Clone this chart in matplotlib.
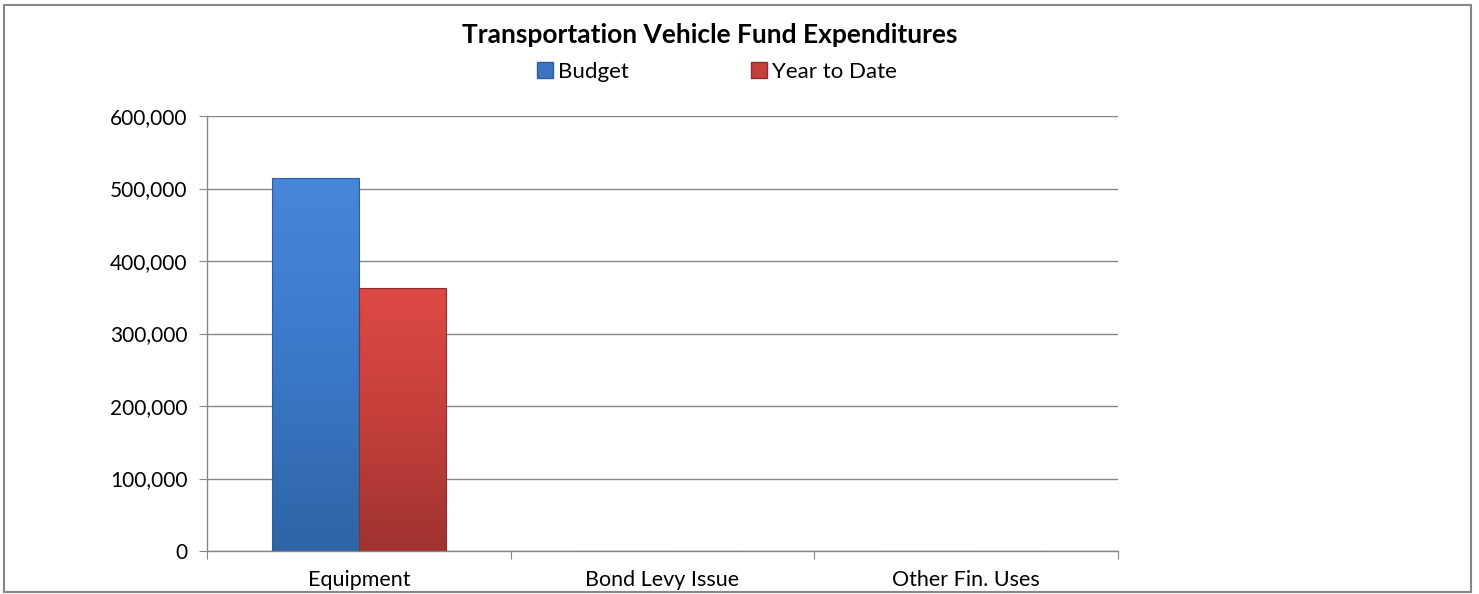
import numpy as np
import matplotlib.pyplot as plt
from matplotlib.lines import Line2D
from matplotlib.patches import Rectangle
from matplotlib.colors import LinearSegmentedColormap

plt.rcParams['font.family'] = ['Lato', 'DejaVu Sans']

categories = ["Equipment", "Bond Levy Issue", "Other Fin. Uses"]
budget = [514000, 0, 0]
year_to_date = [363000, 0, 0]
series = ["Budget", "Year to Date"]

W, H = 1479, 594
fig = plt.figure(figsize=(W / 100, H / 100), dpi=100)
ax = fig.add_axes([207 / W, 1 - 551 / H, (1118 - 207) / W, (551 - 116) / H])

grad = {
    "Budget": LinearSegmentedColormap.from_list("b", ["#2f64a5", "#3b78c8", "#4886da"]),
    "Year to Date": LinearSegmentedColormap.from_list("r", ["#9f3330", "#c43f3b", "#de4a45"]),
}
edge = {"Budget": "#2d5e9c", "Year to Date": "#8e2d2a"}

x = np.arange(len(categories))
w = 0.286
for off, name, vals in [(-w / 2, "Budget", budget), (w / 2, "Year to Date", year_to_date)]:
    bars = ax.bar(x + off, vals, w, color="none", edgecolor=edge[name], linewidth=0.8, zorder=3)
    for b in bars:
        h = b.get_height()
        if h <= 0:
            continue
        x0 = b.get_x()
        g = np.linspace(0, 1, 256).reshape(-1, 1)
        im = ax.imshow(g, cmap=grad[name], origin="lower", aspect="auto",
                       extent=(x0, x0 + b.get_width(), 0, h), zorder=2)
        im.set_clip_path(b)

ax.set_xlim(-0.5, 2.5)
ax.set_ylim(0, 600000)
ax.set_yticks(np.arange(0, 600001, 100000))
ax.yaxis.set_major_formatter(plt.FuncFormatter(lambda v, p: f"{int(v):,}"))
ax.set_xticks([-0.5, 0.5, 1.5, 2.5])
ax.set_xticklabels([])
ax.set_xticks(x, minor=True)
ax.set_xticklabels(categories, minor=True)
ax.tick_params(axis="x", which="minor", length=0, pad=14, labelsize=15.5)
ax.tick_params(axis="x", which="major", length=6, color="#868686", direction="out")
ax.tick_params(axis="y", length=6, color="#868686", labelsize=15, pad=8)
ax.grid(axis="y", color="#868686", linewidth=1.0, zorder=0)
ax.set_axisbelow(True)
for s in ["top", "right"]:
    ax.spines[s].set_visible(False)
for s in ["left", "bottom"]:
    ax.spines[s].set_color("#868686")
    ax.spines[s].set_linewidth(1.0)
ax.set_xlim(-0.5, 2.5)

fig.text(710 / W, 1 - 35 / H, "Transportation Vehicle Fund Expenditures",
         ha="center", va="center", fontsize=19, fontweight="bold")

handles = [Line2D([], [], marker="s", linestyle="none", markersize=11,
                  markerfacecolor="#3b74c0", markeredgecolor="#2d5e9c"),
           Line2D([], [], marker="s", linestyle="none", markersize=11,
                  markerfacecolor="#c43f3b", markeredgecolor="#8e2d2a")]
fig.legend(handles, series, loc="center", bbox_to_anchor=(717 / W, 1 - 72 / H),
           ncol=2, frameon=False, fontsize=16, handlelength=0.7, handletextpad=0.25,
           columnspacing=5.5, borderpad=0)

fig.patches.append(Rectangle((4 / W, 2 / H), 1467 / W, 587 / H, transform=fig.transFigure,
                             fill=False, edgecolor="#868686", linewidth=1.5))

fig.savefig("out.png", dpi=100)
